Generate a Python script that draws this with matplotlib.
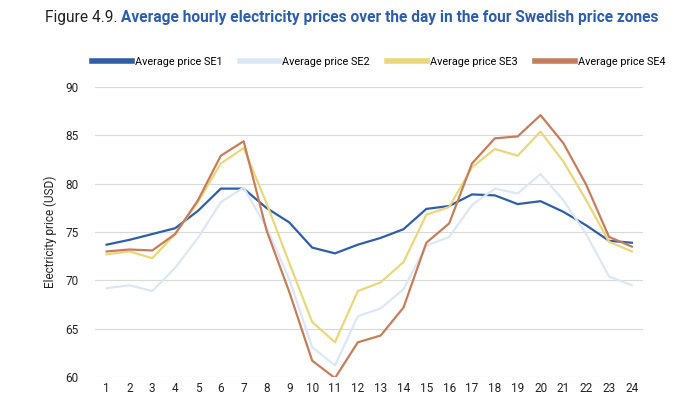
import matplotlib.pyplot as plt

plt.rcParams['font.family'] = ['Roboto', 'DejaVu Sans']

hours = list(range(1, 25))
se1 = [73.7, 74.2, 74.8, 75.4, 77.2, 79.5, 79.5, 77.5, 76.0, 73.4, 72.8, 73.7,
       74.4, 75.3, 77.4, 77.7, 78.9, 78.8, 77.9, 78.2, 77.1, 75.7, 74.1, 73.9]
se2 = [69.2, 69.5, 68.9, 71.3, 74.4, 78.1, 79.6, 75.5, 70.1, 63.1, 61.2, 66.3,
       67.1, 69.1, 73.6, 74.5, 77.8, 79.5, 79.0, 81.0, 78.3, 74.8, 70.4, 69.5]
se3 = [72.7, 73.0, 72.3, 74.8, 78.1, 82.1, 83.7, 78.0, 71.8, 65.7, 63.6, 68.9,
       69.8, 71.9, 76.8, 77.6, 81.7, 83.6, 82.9, 85.4, 82.3, 78.3, 74.0, 73.0]
se4 = [73.0, 73.2, 73.1, 74.8, 78.3, 82.9, 84.4, 75.2, 68.8, 61.7, 59.9, 63.6,
       64.3, 67.2, 73.9, 75.9, 82.1, 84.7, 84.9, 87.1, 84.2, 79.9, 74.5, 73.5]

series = [
    ("Average price SE1", se1, "#2f5ea8"),
    ("Average price SE2", se2, "#dae8f5"),
    ("Average price SE3", se3, "#ead77b"),
    ("Average price SE4", se4, "#c57d5c"),
]

fig = plt.figure(figsize=(7, 4.09), dpi=100)
ax = fig.add_axes([0.136, 0.078, 0.783, 0.709])

for label, vals, col in series:
    ax.plot(hours, vals, color=col, lw=1.6, label=label)

ax.set_xlim(0.5, 24.5)
ax.set_ylim(60, 90)
ax.set_xticks(hours)
ax.set_yticks(range(60, 91, 5))
ax.grid(axis='y', color='#d9d9d9', lw=0.8)
ax.set_axisbelow(True)
for s in ax.spines.values():
    s.set_visible(False)
ax.tick_params(length=0, labelsize=8.5, colors='#222222')
ax.tick_params(axis='y', pad=12)
ax.set_ylabel("Electricity price (USD)", fontsize=8.5, color='#222222', labelpad=6)

# legend row across the top of the plot
leg = fig.legend(loc='center', bbox_to_anchor=(0.541, 0.848), ncol=4, frameon=False,
                 fontsize=7.8, handlelength=3.7, columnspacing=1.6, handletextpad=0.25)
for h in leg.get_lines():
    h.set_linewidth(4)

t1 = fig.text(0.064, 0.945, "Figure 4.9.", fontsize=11.2, color='#222222', va='baseline')
ax.annotate(" Average hourly electricity prices over the day in the four Swedish price zones",
            xy=(1, 0), xycoords=t1, va='bottom', ha='left',
            fontsize=11.2, color='#2f5ea8', fontweight='bold')

fig.savefig("out.png", dpi=100)
